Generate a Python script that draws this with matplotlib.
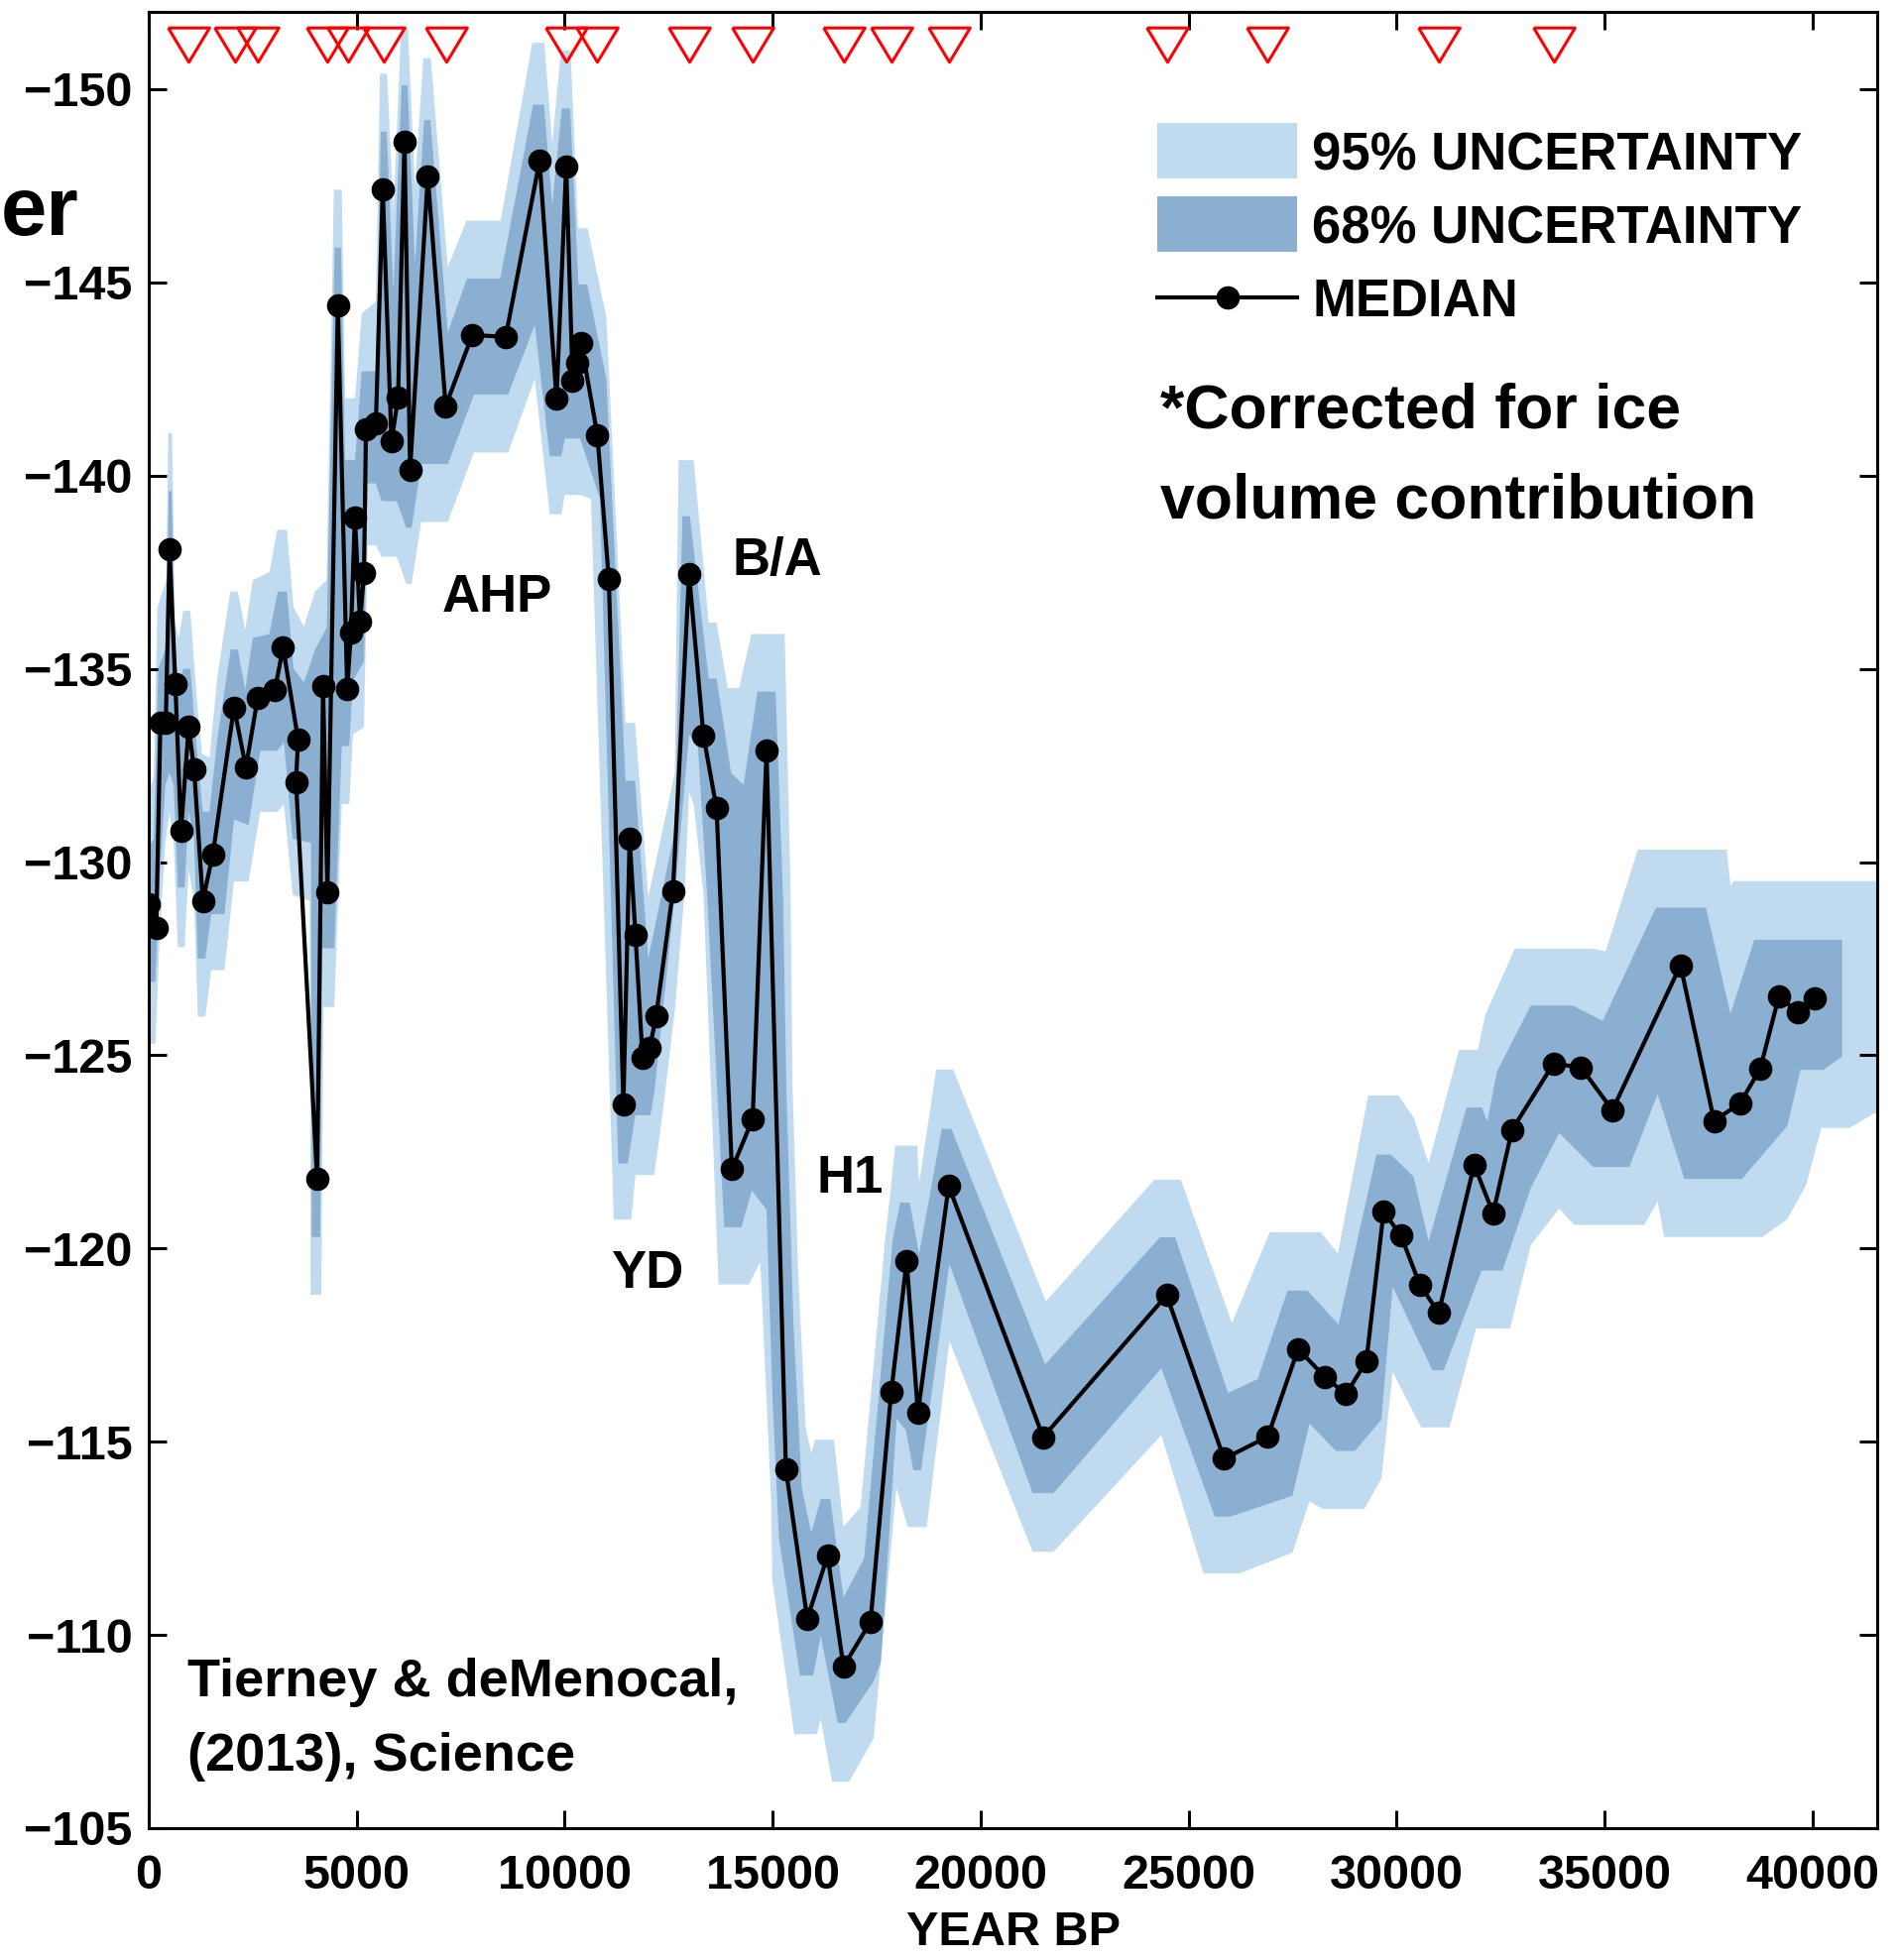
import numpy as np
import matplotlib
matplotlib.use("Agg")
import matplotlib.pyplot as plt
from matplotlib.patches import Rectangle
from matplotlib.lines import Line2D

# ---------------------------------------------------------------------------
# Median reconstruction (ice-volume corrected dD of leaf waxes)
# ---------------------------------------------------------------------------
age_bp = [0, 180, 280, 410, 500, 640, 775, 960, 1090, 1300,
          1540, 2050, 2335, 2620, 3030, 3230, 3590, 3540, 4048, 4190,
          4295, 4546, 4770, 4860, 4955, 5080, 5175, 5222, 5460, 5625,
          5835, 5993, 6147, 6283, 6708, 7138, 7777, 8580, 9394, 9803,
          10035, 10190, 10300, 10395, 10785, 11060, 11410, 11560, 11700, 11870,
          12045, 12195, 12600, 12990, 13335, 13650, 14018, 14517, 14851, 15317,
          15830, 16320, 16700, 17350, 17850, 18220, 18490, 19230, 21500, 24470,
          25850, 26900, 27630, 28270, 28780, 29270, 29685, 30100, 30560, 31010,
          31862, 32318, 32772, 33773, 34433, 35185, 36822, 37630, 38255, 38738,
          39185, 39642, 40060]

dd_median = [-128.9, -128.3, -133.6, -133.6, -138.1, -134.6, -130.8, -133.5, -132.4, -129.0,
             -130.2, -134.0, -132.45, -134.25, -134.45, -135.55, -133.17, -132.07, -121.8, -134.55,
             -129.23, -144.4, -134.47, -135.93, -138.92, -136.22, -137.47, -141.2, -141.35, -147.4,
             -140.88, -142.02, -148.64, -140.16, -147.73, -141.8, -143.64, -143.59, -148.14, -142.0,
             -148.0, -142.46, -142.92, -143.43, -141.05, -137.33, -123.73, -130.6, -128.12, -124.93,
             -125.2, -126.0, -129.24, -137.45, -133.27, -131.39, -122.05, -123.35, -132.88, -114.28,
             -110.42, -112.05, -109.18, -110.34, -116.3, -119.67, -115.75, -121.62, -115.12, -118.79,
             -114.56, -115.13, -117.4, -116.68, -116.23, -117.08, -120.95, -120.34, -119.05, -118.34,
             -122.16, -120.91, -123.07, -124.79, -124.68, -123.58, -127.33, -123.3, -123.76, -124.65,
             -126.52, -126.12, -126.47]

# ---------------------------------------------------------------------------
# Uncertainty envelopes: each edge has its own vertices (age, dD)
# "lo" = more depleted edge (top of the inverted axis), "hi" = less depleted
# ---------------------------------------------------------------------------
lo95_age = [0, 120, 210, 420, 470, 560, 630, 720, 830, 1000, 1150, 1280, 1460, 1650, 1960,
            2140, 2320, 2500, 2900, 3090, 3320, 3480, 3730, 4000, 4275, 4450, 4640, 4720,
            4960, 5120, 5460, 5560, 5730, 5880, 6070, 6230, 6400, 6600, 6780, 7190, 7640,
            8460, 9220, 9510, 9700, 9910, 10140, 10320, 10550, 11000, 11460, 11690, 12010,
            12645, 12736, 13100, 13460, 13650, 13920, 14190, 14487, 15288, 15430, 15475,
            15610, 15790, 15927, 16018, 16473, 16700, 17110, 17170, 17700, 17946, 18474,
            18520, 18929, 19338, 21567, 24173, 24810, 26038, 26948, 28176, 28585, 29313,
            30041, 30404, 30768, 31496, 31951, 32130, 32840, 34700, 35022, 35795, 37933,
            38024, 38115, 41700]
lo95_val = [-131.8, -132.2, -136.6, -137.3, -141.1, -141.1, -136.2, -135.8, -136.5, -136.5,
            -134.3, -132.8, -132.7, -134.8, -137.0, -137.0, -136.0, -137.3, -137.5, -138.6,
            -138.6, -136.6, -136.1, -137.0, -137.3, -147.4, -147.4, -142.0, -142.0, -144.2,
            -144.5, -150.4, -150.4, -146.8, -151.6, -151.6, -147.5, -150.8, -150.8, -145.4,
            -146.6, -146.6, -151.2, -151.2, -148.6, -151.0, -151.0, -146.4, -146.4, -144.1,
            -133.6, -133.6, -129.1, -132.3, -140.4, -140.4, -136.2, -136.2, -134.5, -134.5,
            -135.9, -135.9, -129.2, -124.3, -119.4, -115.4, -114.7, -115.05, -115.05, -112.8,
            -113.3, -114.0, -120.2, -122.66, -122.66, -121.7, -124.63, -124.63, -118.63,
            -121.78, -121.78, -118.07, -120.42, -120.42, -119.87, -123.96, -123.96, -123.39,
            -122.21, -125.14, -125.14, -126.05, -127.76, -127.76, -127.69, -130.32, -130.32,
            -129.4, -129.51, -129.51]

hi95_age = [0, 160, 260, 400, 500, 600, 700, 860, 960, 1090, 1180, 1360, 1500, 1820, 2050,
            2400, 2680, 3090, 3250, 3460, 3870, 3890, 4150, 4200, 4460, 4640, 4820, 4910,
            5175, 5260, 5460, 5600, 5960, 6190, 6320, 6550, 7190, 7820, 8640, 9280, 9640,
            9920, 10000, 10370, 10630, 11180, 11600, 11700, 12150, 12330, 12650, 12880,
            12990, 13100, 13334, 13698, 14430, 14700, 14960, 14990, 15517, 16063, 16154,
            16427, 16837, 17428, 17974, 18247, 18702, 19247, 21249, 21749, 24342, 25356,
            26220, 27493, 27903, 28221, 29222, 29631, 29904, 30587, 31269, 31906, 32724,
            33225, 33906, 34270, 35953, 36272, 36432, 38797, 39389, 39844, 40207, 40889,
            41435, 41700]
hi95_val = [-125.3, -125.3, -128.0, -130.5, -131.3, -130.5, -127.8, -127.8, -129.8, -129.0,
            -126.0, -126.0, -127.2, -127.2, -129.5, -129.5, -131.3, -131.3, -131.5, -129.15,
            -129.0, -118.8, -118.8, -126.25, -126.25, -131.5, -131.5, -133.3, -133.5, -138.2,
            -138.2, -137.9, -137.9, -137.2, -137.2, -138.8, -138.8, -140.6, -140.6, -142.5,
            -139.0, -139.0, -139.5, -139.5, -139.4, -120.75, -120.75, -121.9, -121.9, -123.3,
            -126.2, -129.2, -131.8, -131.5, -129.2, -119.07, -119.07, -119.66, -113.5, -111.4,
            -107.43, -107.43, -107.82, -106.2, -106.2, -107.33, -113.8, -112.79, -112.79,
            -117.6, -112.15, -112.15, -115.17, -111.59, -111.59, -112.13, -113.46, -113.26,
            -113.26, -114.05, -116.8, -115.37, -115.37, -117.93, -117.93, -120.09, -121.03,
            -120.61, -120.61, -121.22, -120.3, -120.3, -120.76, -121.65, -123.12, -123.12,
            -123.47, -123.6]

lo68_age = [0, 120, 230, 430, 480, 550, 630, 720, 830, 1000, 1150, 1300, 1460, 1650, 1970,
            2140, 2320, 2500, 2900, 3100, 3320, 3480, 3730, 4000, 4280, 4470, 4620, 4720,
            4960, 5120, 5460, 5580, 5720, 5880, 6080, 6220, 6400, 6620, 6770, 7190, 7650,
            8450, 9240, 9500, 9700, 9930, 10130, 10330, 10540, 11000, 11462, 11690, 12008,
            12645, 12830, 13010, 13460, 13650, 14000, 14300, 14633, 15070, 15250, 15330,
            15500, 15700, 15927, 16154, 16382, 16700, 17110, 17200, 17880, 18065, 18292,
            18520, 19065, 19293, 21550, 24310, 24673, 25947, 26657, 27375, 27857, 28600,
            29513, 29859, 30404, 30768, 31678, 32042, 32178, 32406, 33224, 34225, 34953,
            36232, 37433, 38024, 38597, 40708]
lo68_val = [-130.4, -130.6, -135.0, -135.6, -139.6, -139.6, -135.5, -134.6, -135.0, -135.0,
            -133.0, -131.3, -131.3, -133.2, -135.5, -135.5, -134.45, -135.8, -135.9, -137.0,
            -137.0, -135.0, -134.65, -135.5, -136.07, -145.9, -145.9, -140.4, -140.4, -142.7,
            -142.7, -148.9, -148.9, -144.8, -150.1, -150.1, -145.5, -149.2, -149.2, -143.7,
            -145.1, -145.1, -149.6, -149.6, -147.0, -149.5, -149.5, -144.95, -144.95, -142.5,
            -132.1, -132.1, -127.5, -130.8, -138.95, -138.95, -134.75, -134.75, -132.3, -132.0,
            -134.41, -134.41, -129.0, -124.0, -118.0, -113.8, -112.64, -113.52, -113.52,
            -110.97, -111.8, -112.0, -120.2, -121.19, -121.19, -119.86, -123.1, -123.1, -117.0,
            -120.29, -120.29, -116.26, -116.62, -118.91, -118.91, -118.03, -122.43, -122.43,
            -121.86, -120.19, -123.65, -123.65, -123.29, -124.57, -126.29, -126.29, -125.89,
            -128.82, -128.82, -126.07, -127.99, -127.99]

hi68_age = [0, 160, 260, 400, 500, 600, 700, 860, 960, 1090, 1180, 1360, 1500, 1820, 2050,
            2400, 2680, 3090, 3250, 3460, 3900, 3920, 4120, 4170, 4460, 4640, 4820, 4910,
            5175, 5260, 5460, 5600, 5960, 6190, 6320, 6550, 7190, 7820, 8640, 9280, 9640,
            9920, 10000, 10370, 10847, 11287, 11515, 11697, 12060, 12150, 12652, 12990,
            13200, 13420, 13835, 14244, 14500, 14850, 15000, 15150, 15654, 15972, 16154,
            16564, 16746, 17428, 17600, 17980, 18200, 18383, 18565, 19247, 21249, 21749,
            24342, 25628, 25992, 27493, 27903, 28540, 28994, 29631, 29904, 30859, 31132,
            32042, 32542, 33225, 33906, 34725, 35590, 36272, 36914, 38297, 39389, 39707,
            40252, 40708]
hi68_val = [-126.9, -126.9, -129.5, -132.0, -132.3, -132.0, -129.34, -129.34, -131.3, -130.6,
            -127.5, -127.5, -128.65, -128.65, -131.1, -130.96, -132.88, -132.88, -133.1, -130.6,
            -130.5, -120.3, -120.3, -127.77, -127.77, -133.0, -133.0, -134.7, -135.2, -139.8,
            -139.8, -139.34, -139.34, -138.65, -138.65, -140.3, -140.3, -142.1, -142.1, -143.9,
            -140.5, -140.5, -140.96, -140.96, -139.4, -122.2, -122.2, -123.45, -123.45, -124.0,
            -129.2, -133.3, -133.0, -129.2, -120.55, -120.55, -121.5, -121.0, -116.0, -112.5,
            -108.95, -108.95, -109.98, -107.72, -107.72, -108.8, -109.3, -115.6, -115.3,
            -114.26, -114.26, -119.6, -113.67, -113.67, -116.9, -113.06, -113.06, -113.6,
            -115.47, -114.76, -114.76, -115.57, -119.01, -116.85, -116.85, -119.43, -119.43,
            -121.57, -122.99, -122.11, -122.11, -123.99, -121.8, -121.8, -123.17, -124.62,
            -124.62, -124.97]

# Radiocarbon-dated levels, shown as open triangles along the top
date_ages = [955, 2074, 2620, 4294, 4794, 5640, 7141, 10025, 10780, 12990,
             14520, 16710, 17850, 19230, 24470, 26900, 31010, 33780]
date_level = -151.15

x_ticks = [0, 5000, 10000, 15000, 20000, 25000, 30000, 35000, 40000]
y_ticks = [-150, -145, -140, -135, -130, -125, -120, -115, -110, -105]

LIGHT = "#c0dbf0"
DARK = "#8aafd0"

plt.rcParams['font.family'] = ['Liberation Sans', 'DejaVu Sans']
plt.rcParams['font.weight'] = 'bold'
plt.rcParams['axes.unicode_minus'] = True

fig = plt.figure(figsize=(19.14, 19.77), dpi=100)
ax = fig.add_axes([150 / 1914, 133 / 1977, 1743 / 1914, 1832 / 1977])


def envelope(lo_a, lo_v, hi_a, hi_v, color, z):
    xs = np.concatenate([np.asarray(lo_a, float), np.asarray(hi_a, float)[::-1]])
    ys = np.concatenate([np.asarray(lo_v, float), np.asarray(hi_v, float)[::-1]])
    ax.fill(xs, ys, color=color, lw=0, zorder=z)


envelope(lo95_age, lo95_val, hi95_age, hi95_val, LIGHT, 1)
envelope(lo68_age, lo68_val, hi68_age, hi68_val, DARK, 2)

ax.plot(age_bp, dd_median, '-o', color='black', lw=3, ms=16, zorder=4)

tri = [(-1, 0.83), (1, 0.83), (0, -0.83), (-1, 0.83)]
ax.plot(date_ages, [date_level] * len(date_ages), linestyle='none', marker=tri,
        ms=30, mfc='none', mec='red', mew=2.2, zorder=5)

ax.set_xlim(0, 41550)
ax.set_ylim(-105, -152)
ax.set_xticks(x_ticks)
ax.set_yticks(y_ticks)
ax.set_xticklabels([str(t) for t in x_ticks])
ax.tick_params(direction='in', length=13, width=2.2, top=True, right=True,
               labelsize=35)
ax.tick_params(axis='x', pad=19)
ax.tick_params(axis='y', pad=12)
for lab in ax.get_xticklabels() + ax.get_yticklabels():
    lab.set_fontweight('bold')
for sp in ax.spines.values():
    sp.set_linewidth(2.2)

ax.set_xlabel('YEAR BP', fontsize=35, fontweight='bold', labelpad=8)

# event labels
ax.text(7060, -136.47, 'AHP', fontsize=38, fontweight='bold', ha='left', va='baseline')
ax.text(14024, -137.42, 'B/A', fontsize=38, fontweight='bold', ha='left', va='baseline')
ax.text(11100, -118.98, 'YD', fontsize=38, fontweight='bold', ha='left', va='baseline')
ax.text(16045, -121.44, 'H1', fontsize=38, fontweight='bold', ha='left', va='baseline')

# notes
ax.text(24316, -141.25, '*Corrected for ice', fontsize=45, fontweight='bold',
        ha='left', va='baseline')
ax.text(24316, -138.91, 'volume contribution', fontsize=45, fontweight='bold',
        ha='left', va='baseline')
ax.text(927, -108.42, 'Tierney & deMenocal,', fontsize=39, fontweight='bold',
        ha='left', va='baseline')
ax.text(927, -106.5, '(2013), Science', fontsize=39, fontweight='bold',
        ha='left', va='baseline')

# legend drawn in axes fraction
T = ax.transAxes
ax.add_patch(Rectangle((0.5835, 0.9083), 0.0809, 0.0306, transform=T,
                       facecolor=LIGHT, edgecolor='none', zorder=6))
ax.add_patch(Rectangle((0.5835, 0.8679), 0.0809, 0.0306, transform=T,
                       facecolor=DARK, edgecolor='none', zorder=6))
ax.add_line(Line2D([0.5835, 0.6644], [0.8428, 0.8428], transform=T, color='black',
                   lw=3, zorder=6))
ax.add_line(Line2D([0.6242], [0.8428], transform=T, marker='o', ms=16,
                   color='black', zorder=7))
ax.text(0.673, 0.9127, '95% UNCERTAINTY', transform=T, fontsize=38,
        fontweight='bold', ha='left', va='baseline')
ax.text(0.673, 0.8725, '68% UNCERTAINTY', transform=T, fontsize=38,
        fontweight='bold', ha='left', va='baseline')
ax.text(0.673, 0.8324, 'MEDIAN', transform=T, fontsize=38,
        fontweight='bold', ha='left', va='baseline')

# tail of the axis title at the left margin
fig.text(1 / 1914, 1 - 237 / 1977, 'er', fontsize=60, fontweight='bold',
         ha='left', va='baseline')

fig.savefig('out.png', dpi=100)
